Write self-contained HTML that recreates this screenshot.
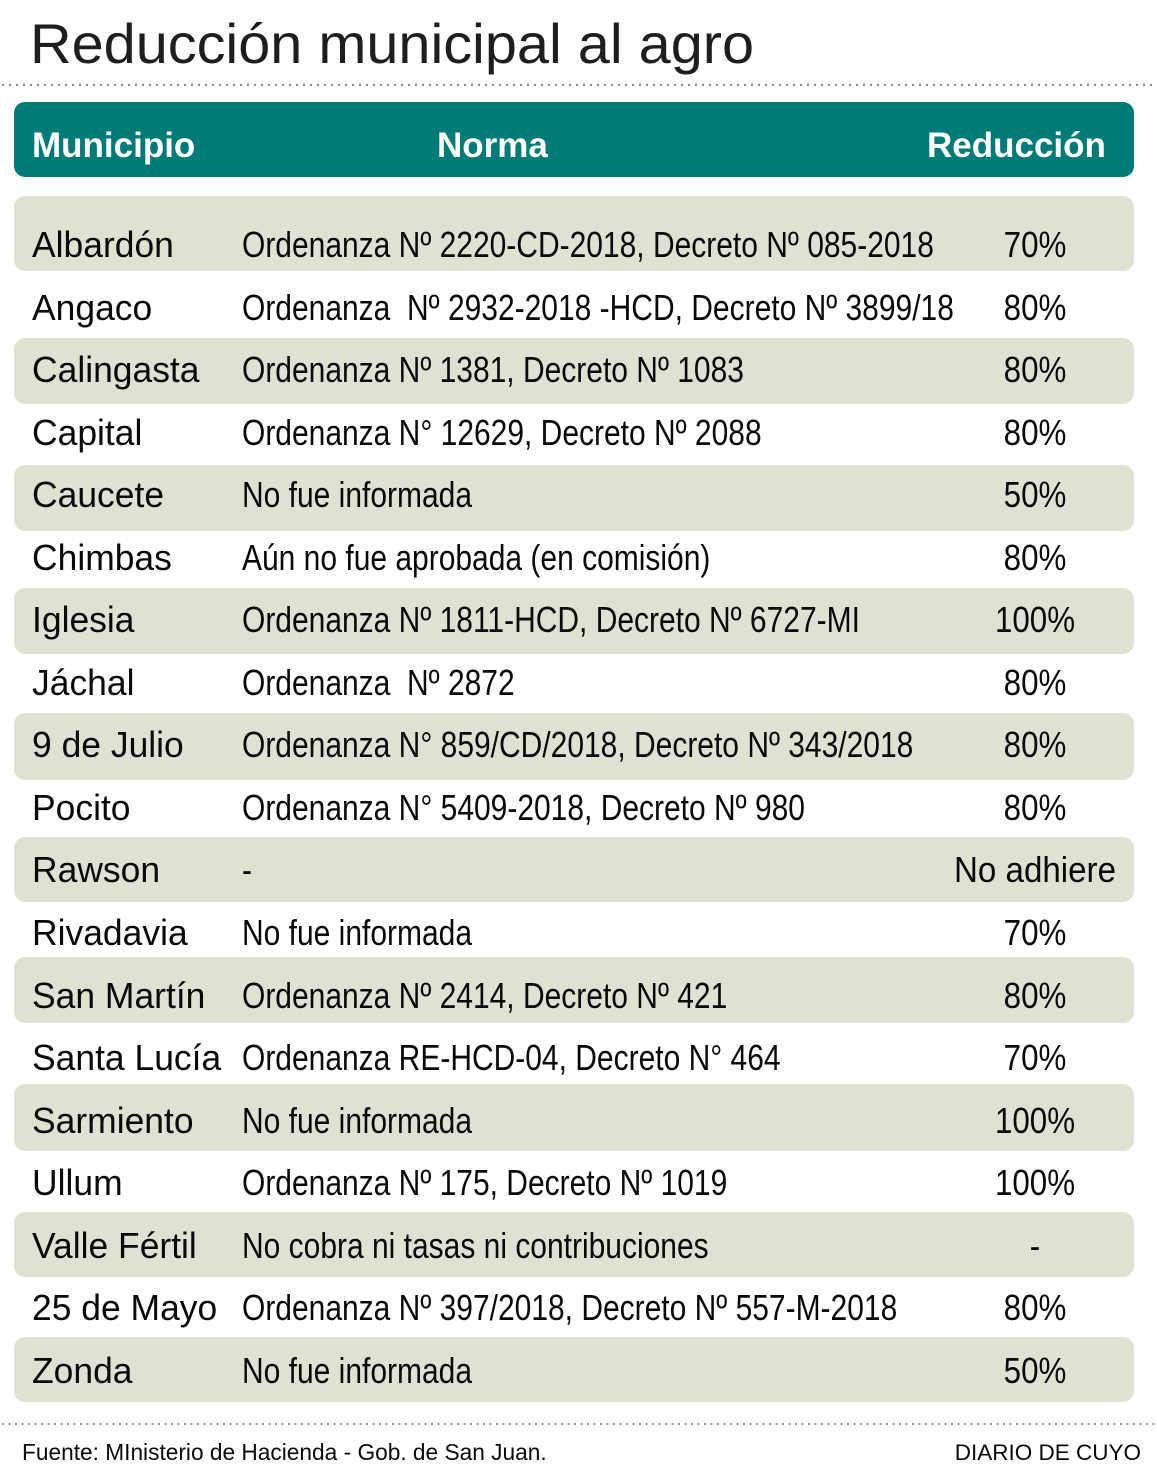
<!DOCTYPE html>
<html>
<head>
<meta charset="utf-8">
<style>
html,body{margin:0;padding:0;background:#fff;}
svg{display:block;}
text{font-family:"Liberation Sans",Arial,sans-serif;}
.m{font-size:36px;fill:#0a0a0a;}
.n{font-size:36px;fill:#0a0a0a;}
.p{font-size:36px;fill:#0a0a0a;text-anchor:middle;}
.h{font-size:35px;font-weight:bold;fill:#fff;}
</style>
</head>
<body>
<svg width="1157" height="1474" viewBox="0 0 1157 1474" xmlns="http://www.w3.org/2000/svg">
<rect width="1157" height="1474" fill="#fff"/>
<text x="30" y="63" font-size="56" fill="#1e1e1e" textLength="724" lengthAdjust="spacingAndGlyphs">Reducción municipal al agro</text>
<line x1="3" y1="85" x2="1157" y2="85" stroke="#8a8a8a" stroke-width="2.4" stroke-linecap="round" stroke-dasharray="0 7"/>

<rect x="14" y="102" width="1120" height="75" rx="11" fill="#017b78"/>
<text class="h" x="32" y="157">Municipio</text>
<text class="h" x="437" y="157">Norma</text>
<text class="h" x="927" y="157">Reducción</text>

<g fill="#e1e1d3">
<rect x="14" y="196" width="1120" height="75" rx="11"/>
<rect x="14" y="338" width="1120" height="66" rx="11"/>
<rect x="14" y="465" width="1120" height="66" rx="11"/>
<rect x="14" y="588" width="1120" height="66" rx="11"/>
<rect x="14" y="713" width="1120" height="67" rx="11"/>
<rect x="14" y="837" width="1120" height="65" rx="11"/>
<rect x="14" y="957" width="1120" height="66" rx="11"/>
<rect x="14" y="1084" width="1120" height="67" rx="11"/>
<rect x="14" y="1212" width="1120" height="65" rx="11"/>
<rect x="14" y="1337" width="1120" height="65" rx="11"/>
</g>

<!-- Municipio column -->
<g>
<text class="m" transform="translate(32,257) scale(0.985,1)">Albardón</text>
<text class="m" transform="translate(32,320) scale(0.985,1)">Angaco</text>
<text class="m" transform="translate(32,382) scale(0.985,1)">Calingasta</text>
<text class="m" transform="translate(32,445) scale(0.985,1)">Capital</text>
<text class="m" transform="translate(32,507) scale(0.985,1)">Caucete</text>
<text class="m" transform="translate(32,570) scale(0.985,1)">Chimbas</text>
<text class="m" transform="translate(32,632) scale(0.985,1)">Iglesia</text>
<text class="m" transform="translate(32,695) scale(0.985,1)">Jáchal</text>
<text class="m" transform="translate(32,757) scale(0.985,1)">9 de Julio</text>
<text class="m" transform="translate(32,820) scale(0.985,1)">Pocito</text>
<text class="m" transform="translate(32,882) scale(0.985,1)">Rawson</text>
<text class="m" transform="translate(32,945) scale(0.985,1)">Rivadavia</text>
<text class="m" transform="translate(32,1008) scale(0.985,1)">San Martín</text>
<text class="m" transform="translate(32,1070) scale(0.985,1)">Santa Lucía</text>
<text class="m" transform="translate(32,1133) scale(0.985,1)">Sarmiento</text>
<text class="m" transform="translate(32,1195) scale(0.985,1)">Ullum</text>
<text class="m" transform="translate(32,1258) scale(0.985,1)">Valle Fértil</text>
<text class="m" transform="translate(32,1320) scale(0.985,1)">25 de Mayo</text>
<text class="m" transform="translate(32,1383) scale(0.985,1)">Zonda</text>
</g>

<!-- Norma column -->
<g>
<text class="n" xml:space="preserve" transform="translate(242,257) scale(0.833,1)">Ordenanza Nº 2220-CD-2018, Decreto Nº 085-2018</text>
<text class="n" xml:space="preserve" transform="translate(242,320) scale(0.833,1)">Ordenanza  Nº 2932-2018 -HCD, Decreto Nº 3899/18</text>
<text class="n" xml:space="preserve" transform="translate(242,382) scale(0.833,1)">Ordenanza Nº 1381, Decreto Nº 1083</text>
<text class="n" xml:space="preserve" transform="translate(242,445) scale(0.833,1)">Ordenanza N° 12629, Decreto Nº 2088</text>
<text class="n" xml:space="preserve" transform="translate(242,507) scale(0.833,1)">No fue informada</text>
<text class="n" xml:space="preserve" transform="translate(242,570) scale(0.833,1)">Aún no fue aprobada (en comisión)</text>
<text class="n" xml:space="preserve" transform="translate(242,632) scale(0.833,1)">Ordenanza Nº 1811-HCD, Decreto Nº 6727-MI</text>
<text class="n" xml:space="preserve" transform="translate(242,695) scale(0.833,1)">Ordenanza  Nº 2872</text>
<text class="n" xml:space="preserve" transform="translate(242,757) scale(0.833,1)">Ordenanza N° 859/CD/2018, Decreto Nº 343/2018</text>
<text class="n" xml:space="preserve" transform="translate(242,820) scale(0.833,1)">Ordenanza N° 5409-2018, Decreto Nº 980</text>
<text class="n" xml:space="preserve" transform="translate(242,882) scale(0.833,1)">-</text>
<text class="n" xml:space="preserve" transform="translate(242,945) scale(0.833,1)">No fue informada</text>
<text class="n" xml:space="preserve" transform="translate(242,1008) scale(0.833,1)">Ordenanza Nº 2414, Decreto Nº 421</text>
<text class="n" xml:space="preserve" transform="translate(242,1070) scale(0.833,1)">Ordenanza RE-HCD-04, Decreto N° 464</text>
<text class="n" xml:space="preserve" transform="translate(242,1133) scale(0.833,1)">No fue informada</text>
<text class="n" xml:space="preserve" transform="translate(242,1195) scale(0.833,1)">Ordenanza Nº 175, Decreto Nº 1019</text>
<text class="n" xml:space="preserve" transform="translate(242,1258) scale(0.833,1)">No cobra ni tasas ni contribuciones</text>
<text class="n" xml:space="preserve" transform="translate(242,1320) scale(0.833,1)">Ordenanza Nº 397/2018, Decreto Nº 557-M-2018</text>
<text class="n" xml:space="preserve" transform="translate(242,1383) scale(0.833,1)">No fue informada</text>
</g>

<!-- Reduccion column -->
<g>
<text class="p" transform="translate(1035,257) scale(0.87,1)">70%</text>
<text class="p" transform="translate(1035,320) scale(0.87,1)">80%</text>
<text class="p" transform="translate(1035,382) scale(0.87,1)">80%</text>
<text class="p" transform="translate(1035,445) scale(0.87,1)">80%</text>
<text class="p" transform="translate(1035,507) scale(0.87,1)">50%</text>
<text class="p" transform="translate(1035,570) scale(0.87,1)">80%</text>
<text class="p" transform="translate(1035,632) scale(0.87,1)">100%</text>
<text class="p" transform="translate(1035,695) scale(0.87,1)">80%</text>
<text class="p" transform="translate(1035,757) scale(0.87,1)">80%</text>
<text class="p" transform="translate(1035,820) scale(0.87,1)">80%</text>
<text class="p" transform="translate(1035,882) scale(0.92,1)">No adhiere</text>
<text class="p" transform="translate(1035,945) scale(0.87,1)">70%</text>
<text class="p" transform="translate(1035,1008) scale(0.87,1)">80%</text>
<text class="p" transform="translate(1035,1070) scale(0.87,1)">70%</text>
<text class="p" transform="translate(1035,1133) scale(0.87,1)">100%</text>
<text class="p" transform="translate(1035,1195) scale(0.87,1)">100%</text>
<text class="p" transform="translate(1035,1258) scale(0.87,1)">-</text>
<text class="p" transform="translate(1035,1320) scale(0.87,1)">80%</text>
<text class="p" transform="translate(1035,1383) scale(0.87,1)">50%</text>
</g>

<line x1="3" y1="1424" x2="1157" y2="1424" stroke="#8a8a8a" stroke-width="2.2" stroke-linecap="round" stroke-dasharray="0 6.5"/>
<text x="22" y="1460" font-size="22.7" fill="#0a0a0a">Fuente: MInisterio de Hacienda - Gob. de San Juan.</text>
<text x="1141" y="1460" font-size="22.5" fill="#0a0a0a" text-anchor="end">DIARIO DE CUYO</text>
</svg>
</body>
</html>
